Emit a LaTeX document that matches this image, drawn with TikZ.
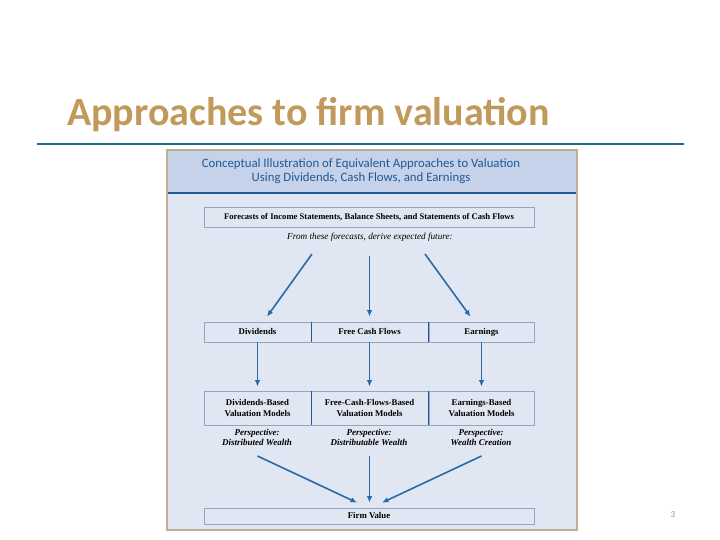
\documentclass[tikz,border=0pt]{standalone}
\usepackage{fontspec}
\usetikzlibrary{arrows.meta}
\setmainfont{Liberation Serif}
\newfontfamily\headfont{Carlito}
\definecolor{titletan}{HTML}{C19A5B}
\definecolor{ruleteal}{HTML}{1E6B8A}
\definecolor{panelline}{HTML}{BDAF8F}
\definecolor{panelfill}{HTML}{E0E6F2}
\definecolor{headfill}{HTML}{C6D1EA}
\definecolor{headblue}{HTML}{1F5A96}
\definecolor{arrowblue}{HTML}{2A6AA8}
\definecolor{boxline}{HTML}{95A4C2}
\begin{document}
\begin{tikzpicture}[x=1pt,y=-1pt,
    cell/.style={draw=boxline,fill=panelfill,line width=0.7pt,inner sep=0pt,
        align=center,font=\fontsize{8.8}{11}\selectfont\bfseries},
    onecell/.style={cell,minimum height=20pt,text height=6pt,text depth=2pt},
    note/.style={align=center,font=\fontsize{9}{10}\selectfont\bfseries\itshape},
    divider/.style={headblue,line width=1.6pt},
    arr/.style={-{Latex[length=6.5pt,width=5.5pt]},arrowblue,line width=1.6pt}]
    {
    \def\panel{(167,150) rectangle (577,530)}

    \useasboundingbox (0,0) rectangle (720,540);
    \fill[white] (0,0) rectangle (720,540);

    % title and rule
    \node[anchor=base west,inner sep=0pt,text=titletan,
        font=\headfont\fontsize{40}{44}\selectfont\bfseries] (title) at (67,126) {Approaches to firm valuation};
    \draw[ruleteal,line width=2.6pt] (37,144) -- (684,144);

    % panel with header band
    \fill[panelfill] \panel;
    \fill[headfill] (167,150) rectangle (577,193);
    \draw[headblue,line width=1.8pt] (167,193) -- (577,193);
    \draw[panelline,line width=1.4pt] \panel;
    \node[align=center,text=headblue,font=\headfont\fontsize{12.8}{13.5}\selectfont] (head) at (361,171)
        {Conceptual Illustration of Equivalent Approaches to Valuation\\Using Dividends, Cash Flows, and Earnings};

    % forecasts
    \node[onecell,minimum width=330pt,font=\fontsize{8.6}{10}\selectfont\bfseries] (fore) at (369,217)
        {Forecasts of Income Statements, Balance Sheets, and Statements of Cash Flows};
    \node[note,font=\fontsize{9.2}{10}\selectfont\itshape] (derive) at (370,237) {From these forecasts, derive expected future:};

    % first row
    \node[onecell,minimum width=107pt] (div) at (257.5,332) {Dividends};
    \node[onecell,minimum width=117pt] (fcf) at (369.5,332) {Free Cash Flows};
    \node[onecell,minimum width=105pt] (earn) at (481.5,332) {Earnings};
    \draw[divider] (div.north east) -- (div.south east);
    \draw[divider] (earn.north west) -- (earn.south west);

    % second row
    \node[cell,minimum width=107pt,minimum height=34pt] (divm) at (257.5,408) {Dividends-Based\\Valuation Models};
    \node[cell,minimum width=117pt,minimum height=34pt] (fcfm) at (369.5,408) {Free-Cash-Flows-Based\\Valuation Models};
    \node[cell,minimum width=105pt,minimum height=34pt] (earnm) at (481.5,408) {Earnings-Based\\Valuation Models};
    \draw[divider] (divm.north east) -- (divm.south east);
    \draw[divider] (earnm.north west) -- (earnm.south west);

    \node[note] (pdiv) at (257,437) {Perspective:\\Distributed Wealth};
    \node[note] (pfcf) at (369,437) {Perspective:\\Distributable Wealth};
    \node[note] (pearn) at (481,437) {Perspective:\\Wealth Creation};

    % firm value
    \node[cell,minimum width=330pt,minimum height=16pt,text height=6pt,text depth=2pt] (firm) at (369,516) {Firm Value};

    % arrows
    \coordinate (sdiv) at (312,254);
    \coordinate (sfcf) at (369.5,256);
    \coordinate (searn) at (425,254);
    \coordinate (spdiv) at (257.5,456);
    \coordinate (spfcf) at (369.5,456);
    \coordinate (spearn) at (481.5,456);
    \draw[arr] (sdiv) -- ([xshift=9.5pt,yshift=5pt]div.north);
    \draw[arr] (sfcf) -- ([yshift=5pt]fcf.north);
    \draw[arr] (searn) -- ([xshift=-11pt,yshift=5pt]earn.north);
    \draw[arr,shorten >=4pt] (div) -- (divm);
    \draw[arr,shorten >=4pt] (fcf) -- (fcfm);
    \draw[arr,shorten >=4pt] (earn) -- (earnm);
    \draw[arr] (spdiv) -- ([xshift=-12pt,yshift=5pt]firm.north);
    \draw[arr] (spfcf) -- ([xshift=0.5pt,yshift=5pt]firm.north);
    \draw[arr] (spearn) -- ([xshift=13pt,yshift=5pt]firm.north);

    % page number
    \node[text=titletan!80!gray,font=\headfont\fontsize{9}{10}\selectfont] (page) at (673,515) {3};
}
\end{tikzpicture}
\end{document}
